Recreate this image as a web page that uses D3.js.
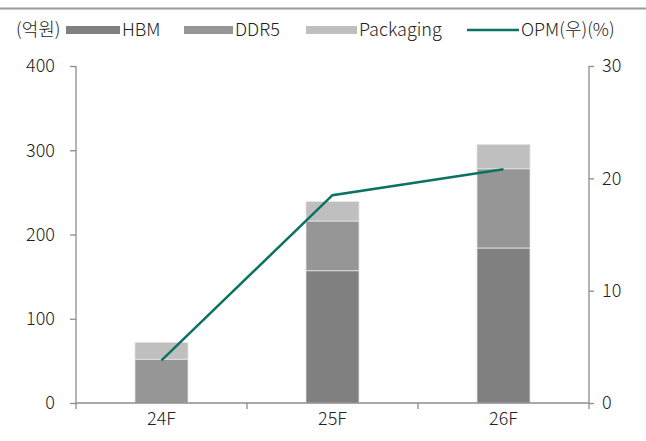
<!DOCTYPE html>
<html>
<head>
<meta charset="utf-8">
<script src="https://cdn.jsdelivr.net/npm/d3@7"></script>
<style>
  html, body { margin: 0; padding: 0; background: #fff; }
  svg { display: block; }
  text { font-family: "Noto Sans CJK KR", "Noto Sans", sans-serif; font-weight: 300; fill: #222; }
</style>
</head>
<body>
<svg id="chart" width="646" height="441"></svg>
<script>
// Categories and series (억원; OPM in %)
const categories = ["24F", "25F", "26F"];
const hbm = [0, 157, 184];
const ddr5 = [52, 59, 94];
const packaging = [20, 23, 29];
const opm = [3.8, 18.5, 20.8];
const leftTicks = [0, 100, 200, 300, 400];
const rightTicks = [0, 10, 20, 30];

const seriesNames = ["HBM", "DDR5", "Packaging"];
const seriesColors = { HBM: "#808080", DDR5: "#969696", Packaging: "#bfbfbf" };
const lineColor = "#0b7264";
const fontStack = '"Noto Sans CJK KR", "Noto Sans", sans-serif';
const fs = 18;

const svg = d3.select("#chart");
const W = 646, H = 441;
const m = { left: 76, right: 57, top: 66, bottom: 38 };
const plotW = W - m.left - m.right;
const plotH = H - m.top - m.bottom;

// top rule
svg.append("line")
  .attr("x1", 0).attr("x2", W).attr("y1", 8.5).attr("y2", 8.5)
  .attr("stroke", "#9a9a9a").attr("stroke-width", 2);

const x = d3.scaleBand().domain(categories).range([m.left, m.left + plotW]).paddingInner(0).paddingOuter(0);
const yL = d3.scaleLinear().domain([0, 400]).range([m.top + plotH, m.top]);
const yR = d3.scaleLinear().domain([0, 30]).range([m.top + plotH, m.top]);

const rows = categories.map((c, i) => ({ cat: c, HBM: hbm[i], DDR5: ddr5[i], Packaging: packaging[i] }));
const stacked = d3.stack().keys(seriesNames)(rows);

const barW = 53;
const g = svg.append("g");
stacked.forEach(layer => {
  g.selectAll(null).data(layer).enter().append("rect")
    .attr("x", d => x(d.data.cat) + x.bandwidth() / 2 - barW / 2)
    .attr("width", barW)
    .attr("y", d => yL(d[1]))
    .attr("height", d => Math.max(0, yL(d[0]) - yL(d[1])))
    .attr("fill", seriesColors[layer.key])
    .attr("stroke", "#e4e4e4")
    .attr("stroke-width", d => (d[1] - d[0]) > 0 ? 0.8 : 0);
});

// axes
const axisColor = "#8c8c8c";
const leftAxis = svg.append("g").attr("transform", `translate(${m.left},0)`)
  .call(d3.axisLeft(yL).tickValues(leftTicks).tickSize(6).tickPadding(15));
const rightAxis = svg.append("g").attr("transform", `translate(${m.left + plotW},0)`)
  .call(d3.axisRight(yR).tickValues(rightTicks).tickSize(5).tickPadding(8));
const bottomAxis = svg.append("g").attr("transform", `translate(0,${m.top + plotH})`)
  .call(d3.axisBottom(x).tickSize(0).tickPadding(9));

[leftAxis, rightAxis, bottomAxis].forEach(a => {
  a.selectAll("path, line").attr("stroke", axisColor).attr("stroke-width", 1.3);
  a.selectAll("text").attr("font-size", fs).attr("fill", "#222")
    .style("font-family", fontStack).style("font-weight", 300);
});
leftAxis.select("path.domain").attr("d", `M0,${m.top}V${m.top + plotH}`);
rightAxis.select("path.domain").attr("d", `M0,${m.top}V${m.top + plotH}`);
bottomAxis.select("path.domain").attr("d", `M${m.left},0H${m.left + plotW}`);

// category boundary ticks
const bounds = [m.left].concat(categories.map(c => x(c) + x.bandwidth()));
bottomAxis.selectAll(".bound").data(bounds).enter().append("line")
  .attr("x1", d => d).attr("x2", d => d).attr("y1", 0).attr("y2", 6)
  .attr("stroke", axisColor).attr("stroke-width", 1.3);

// OPM line
const line = d3.line()
  .x((d, i) => x(categories[i]) + x.bandwidth() / 2)
  .y(d => yR(d));
svg.append("path").datum(opm)
  .attr("d", line).attr("fill", "none")
  .attr("stroke", lineColor).attr("stroke-width", 2.5);

// legend
const ly = 30;
svg.append("text").attr("x", 16).attr("y", ly).attr("dy", "0.35em")
  .attr("font-size", fs).text("(억원)");
const legendItems = [
  { name: "HBM", type: "rect", x0: 66, x1: 120, color: seriesColors.HBM },
  { name: "DDR5", type: "rect", x0: 184, x1: 233, color: seriesColors.DDR5 },
  { name: "Packaging", type: "rect", x0: 306, x1: 357, color: seriesColors.Packaging },
  { name: "OPM(우)(%)", type: "line", x0: 467, x1: 519, color: lineColor }
];
legendItems.forEach(it => {
  if (it.type === "rect") {
    svg.append("rect").attr("x", it.x0).attr("y", ly - 4).attr("width", it.x1 - it.x0).attr("height", 8)
      .attr("fill", it.color);
  } else {
    svg.append("line").attr("x1", it.x0).attr("x2", it.x1).attr("y1", ly).attr("y2", ly)
      .attr("stroke", it.color).attr("stroke-width", 2.5);
  }
  svg.append("text").attr("x", it.x1 + 2).attr("y", ly).attr("dy", "0.35em")
    .attr("font-size", fs).text(it.name);
});
</script>
</body>
</html>
